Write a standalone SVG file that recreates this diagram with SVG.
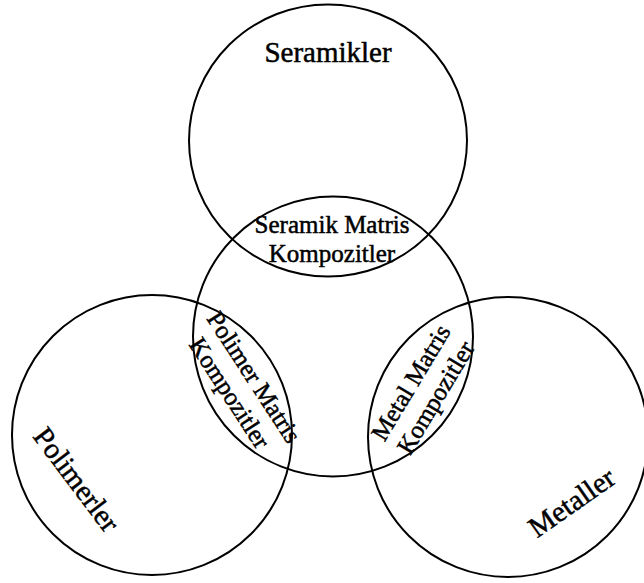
<svg xmlns="http://www.w3.org/2000/svg" width="644" height="583" viewBox="0 0 644 583">
<style>
.c{fill:none;stroke:#000;stroke-width:2}
.t{font-family:"Liberation Serif","Times New Roman",serif;fill:#000;stroke:#000;stroke-width:0.5;text-anchor:middle}
.big{font-size:29px}
.sm{font-size:25px}
</style>
<rect width="644" height="583" fill="#fff"/>
<g id="seramikler">
<ellipse class="c" cx="328" cy="140.5" rx="139" ry="136"/>
<text class="t big" x="328" y="62">Seramikler</text>
</g>
<g id="kompozitler">
<circle class="c" cx="333" cy="336.5" r="140"/>
</g>
<g id="polimerler">
<circle class="c" cx="152" cy="435" r="140"/>
<text class="t big" transform="translate(76,480) rotate(53)" y="9">Polimerler</text>
</g>
<g id="metaller">
<circle class="c" cx="508" cy="437" r="140"/>
<text class="t big" transform="translate(572,503) rotate(-35)" y="9">Metaller</text>
</g>
<g id="seramik-matris">
<text class="t sm" x="332" y="233">Seramik Matris</text>
<text class="t sm" x="332" y="262">Kompozitler</text>
</g>
<g id="polimer-matris">
<text class="t sm" transform="translate(242,385) rotate(57)"><tspan x="0" y="-6">Polimer Matris</tspan><tspan x="0" y="23">Kompozitler</tspan></text>
</g>
<g id="metal-matris">
<text class="t sm" transform="translate(423,390) rotate(-59)"><tspan x="0" y="-6">Metal Matris</tspan><tspan x="0" y="23">Kompozitler</tspan></text>
</g>
<g id="connectors"></g>
</svg>
